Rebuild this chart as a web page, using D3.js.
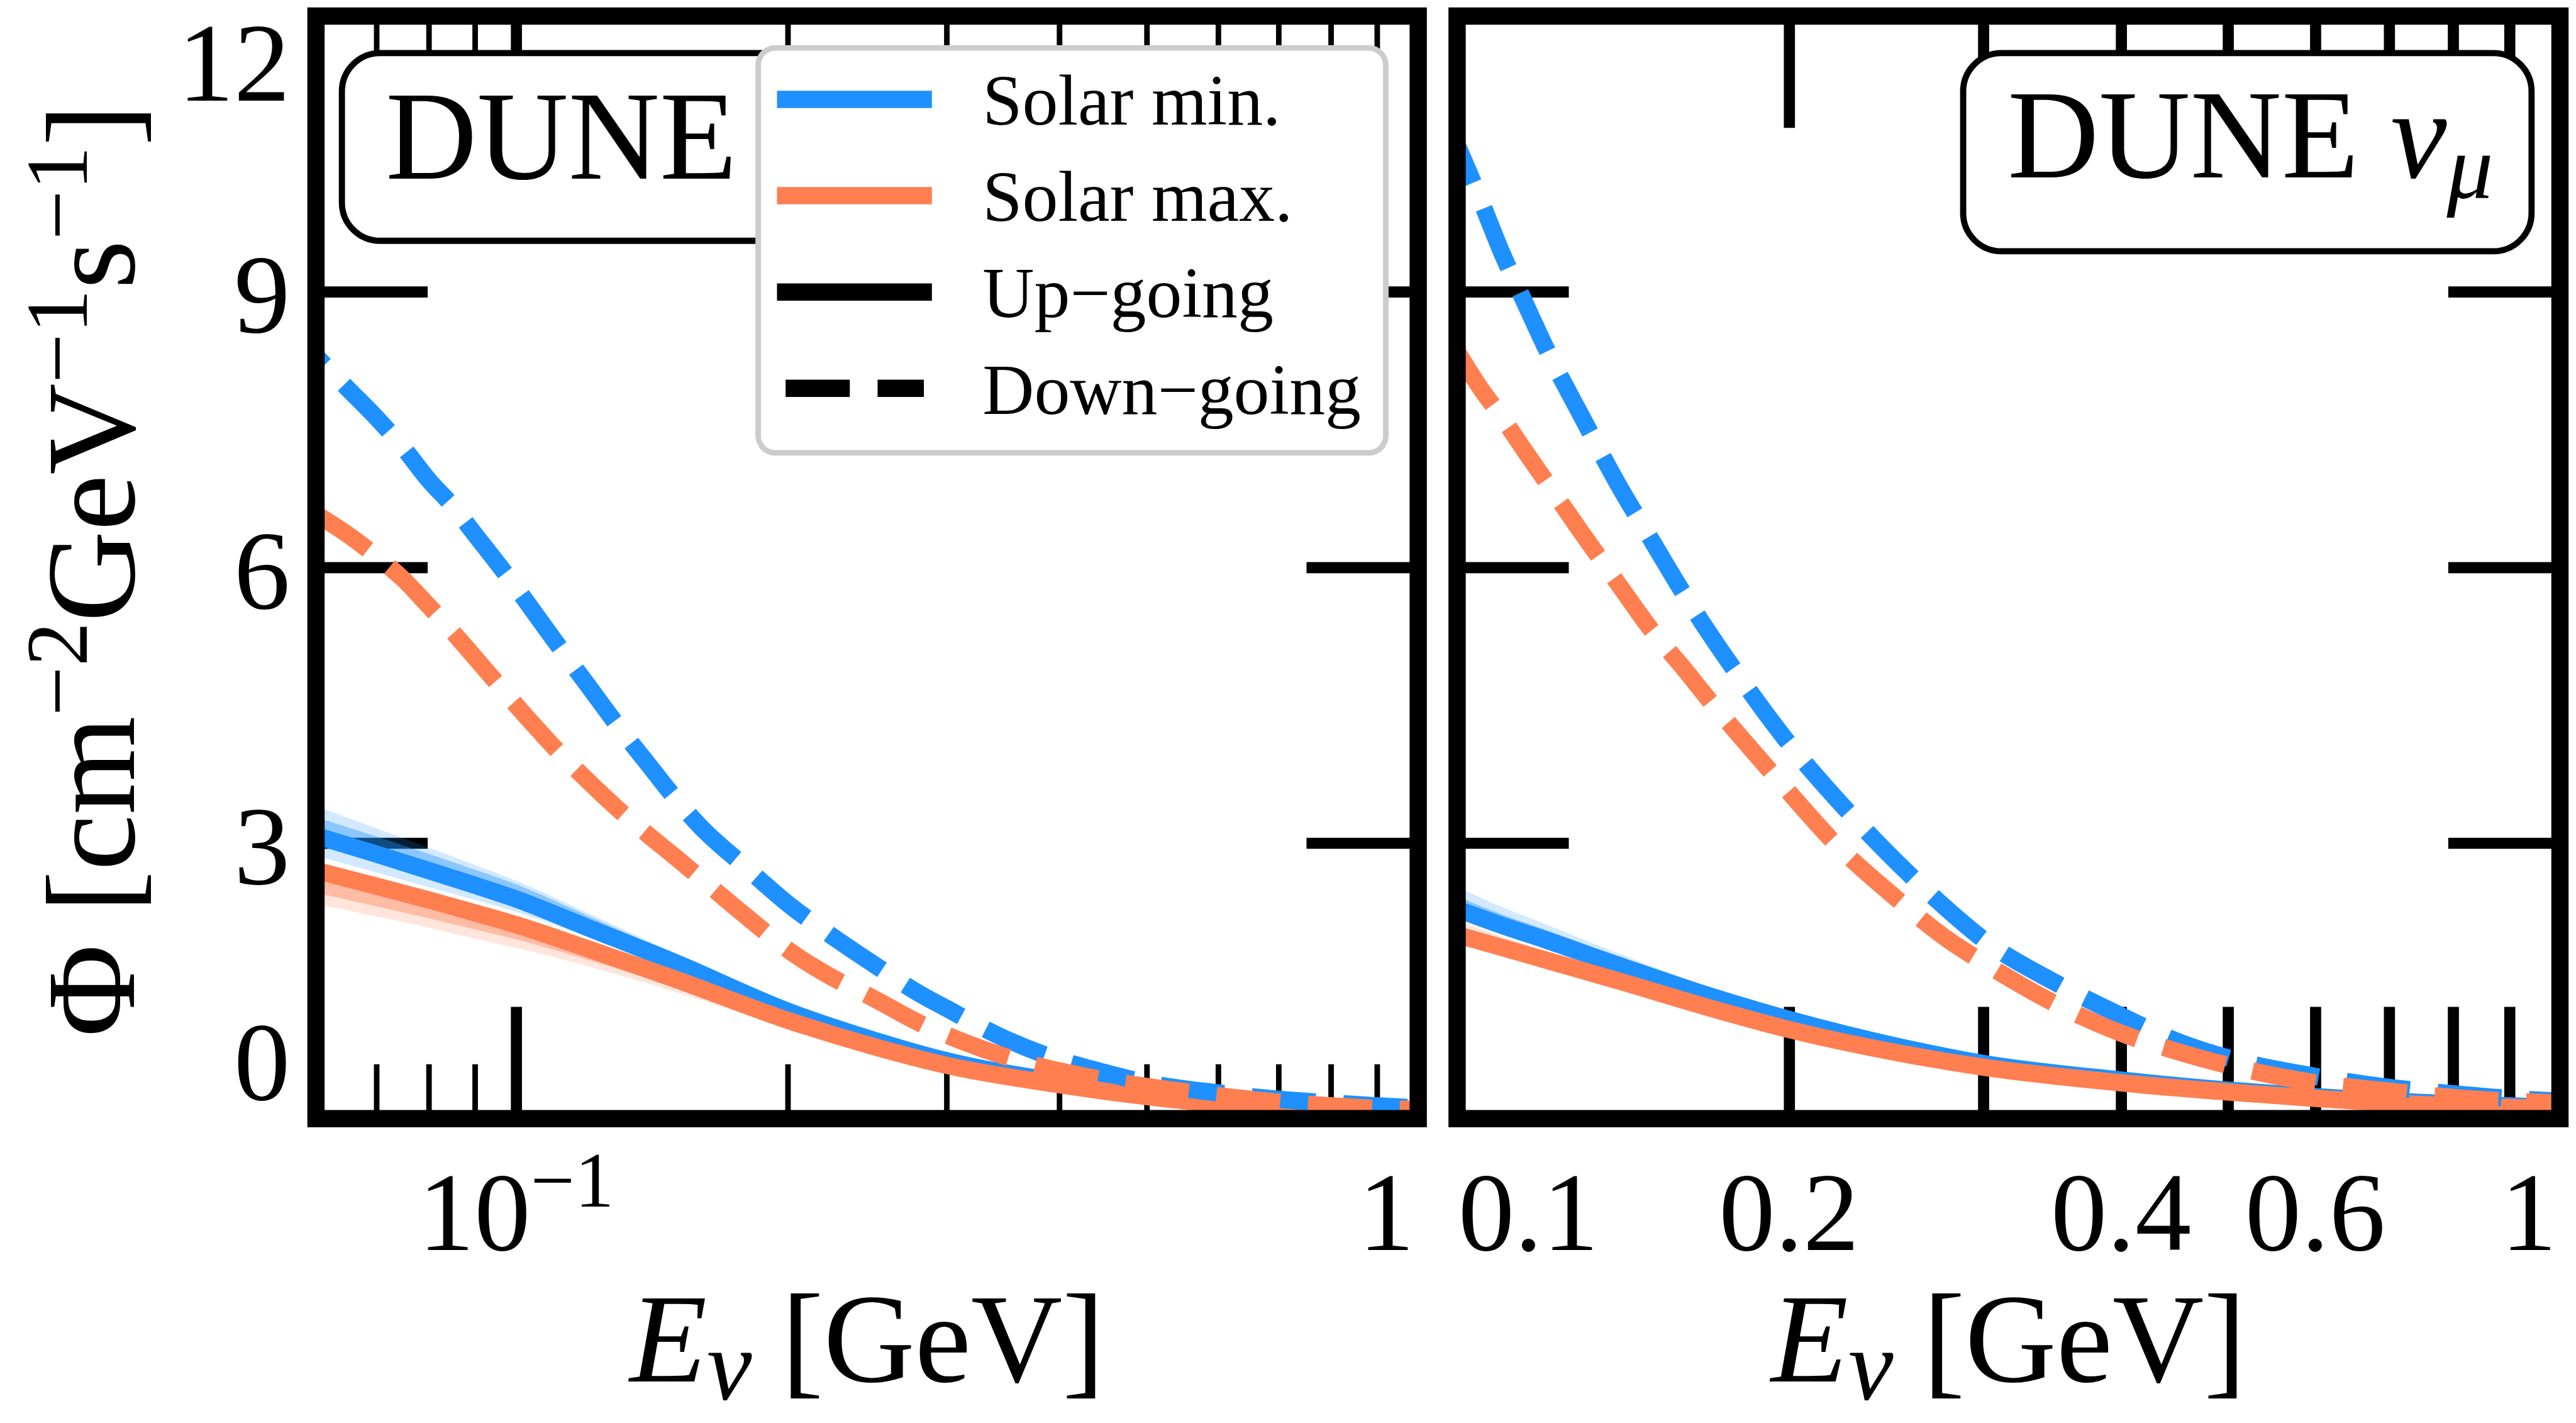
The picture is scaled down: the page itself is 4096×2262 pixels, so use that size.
<!DOCTYPE html>
<html lang="en">
<head>
  <meta charset="UTF-8" />
  <title>DUNE – flux at solar minimum and maximum</title>
  <script src="https://cdn.jsdelivr.net/npm/d3@7"></script>
  <style>
    html, body { margin: 0; padding: 0; background: #fff; overflow: hidden; }
    svg { display: block; }
    text { font-family: 'Liberation Serif', 'Times New Roman', serif; fill: #000; }
  </style>
</head>
<body>
  <svg id="chart" width="4096" height="2262" viewBox="0 0 4174 2305"></svg>
  <script>
    // ---------- values ----------
    // left panel, E from 0.06 to 1 GeV
    const leftSolidE   = [0.06, 0.07, 0.08, 0.09, 0.1, 0.12, 0.15, 0.2, 0.25, 0.3, 0.4, 0.5, 0.6, 0.8, 1.0];
    const leftUpMin    = [3.08, 2.88, 2.70, 2.54, 2.39, 2.08, 1.70, 1.17, 0.85, 0.63, 0.40, 0.26, 0.18, 0.11, 0.08];
    const leftUpMinHi  = [3.40, 3.16, 2.95, 2.76, 2.59, 2.24, 1.80, 1.22, 0.88, 0.65, 0.41, 0.27, 0.18, 0.11, 0.08];
    const leftUpMinHi2 = [3.28, 3.07, 2.88, 2.71, 2.55, 2.21, 1.78, 1.21, 0.87, 0.64, 0.41, 0.27, 0.18, 0.11, 0.08];
    const leftUpMinLo  = [2.86, 2.68, 2.52, 2.38, 2.25, 1.98, 1.63, 1.13, 0.83, 0.62, 0.39, 0.25, 0.18, 0.11, 0.08];
    const leftUpMax    = [2.70, 2.53, 2.38, 2.24, 2.11, 1.85, 1.52, 1.07, 0.78, 0.58, 0.37, 0.24, 0.16, 0.10, 0.07];
    const leftUpMaxHi  = [2.80, 2.62, 2.46, 2.31, 2.17, 1.90, 1.55, 1.09, 0.79, 0.59, 0.37, 0.24, 0.16, 0.10, 0.07];
    const leftUpMaxLo  = [2.34, 2.20, 2.08, 1.96, 1.86, 1.66, 1.38, 0.99, 0.73, 0.55, 0.35, 0.23, 0.16, 0.10, 0.07];
    const leftUpMaxLo2 = [2.46, 2.31, 2.18, 2.06, 1.95, 1.73, 1.43, 1.02, 0.75, 0.56, 0.36, 0.23, 0.16, 0.10, 0.07];

    const leftDownE    = [0.06, 0.065, 0.07, 0.075, 0.08, 0.085, 0.09, 0.1, 0.11, 0.12, 0.13, 0.14, 0.15, 0.16, 0.18,
                          0.2, 0.22, 0.25, 0.28, 0.3, 0.35, 0.4, 0.45, 0.5, 0.6, 0.7, 0.8, 0.9, 1.0];
    const leftDownMin  = [8.30, 7.95, 7.63, 7.30, 6.95, 6.67, 6.36, 5.78, 5.22, 4.72, 4.26, 3.86, 3.49, 3.18, 2.73,
                          2.34, 2.04, 1.67, 1.36, 1.20, 0.86, 0.64, 0.50, 0.39, 0.28, 0.21, 0.17, 0.14, 0.115];
    const leftDownMax  = [6.58, 6.36, 6.12, 5.87, 5.58, 5.30, 5.02, 4.50, 4.05, 3.68, 3.36, 3.09, 2.85, 2.62, 2.20,
                          1.84, 1.58, 1.30, 1.04, 0.91, 0.67, 0.52, 0.42, 0.35, 0.25, 0.18, 0.14, 0.11, 0.10];

    // right panel, E from 0.1 to 1 GeV
    const rightSolidE   = [0.1, 0.11, 0.12, 0.14, 0.17, 0.2, 0.25, 0.3, 0.4, 0.5, 0.6, 0.8, 1.0];
    const rightUpMin    = [2.28, 2.10, 1.95, 1.67, 1.33, 1.08, 0.79, 0.60, 0.42, 0.31, 0.24, 0.16, 0.12];
    const rightUpMinHi  = [2.52, 2.30, 2.12, 1.80, 1.42, 1.13, 0.81, 0.61, 0.42, 0.31, 0.24, 0.16, 0.12];
    const rightUpMinHi2 = [2.42, 2.22, 2.06, 1.76, 1.39, 1.12, 0.80, 0.61, 0.42, 0.31, 0.24, 0.16, 0.12];
    const rightUpMinLo  = [2.20, 2.03, 1.89, 1.62, 1.30, 1.06, 0.78, 0.59, 0.42, 0.31, 0.24, 0.16, 0.12];
    const rightUpMax    = [2.00, 1.86, 1.73, 1.50, 1.20, 0.97, 0.72, 0.56, 0.39, 0.29, 0.22, 0.14, 0.11];
    const rightUpMaxHi  = [2.16, 1.98, 1.82, 1.55, 1.22, 0.98, 0.72, 0.56, 0.39, 0.29, 0.22, 0.14, 0.11];
    const rightUpMaxLo  = [1.97, 1.84, 1.71, 1.49, 1.19, 0.96, 0.72, 0.56, 0.39, 0.29, 0.22, 0.14, 0.11];
    const rightUpMaxLo2 = [1.98, 1.85, 1.72, 1.50, 1.20, 0.97, 0.72, 0.56, 0.39, 0.29, 0.22, 0.14, 0.11];

    const rightDownE    = [0.1, 0.105, 0.11, 0.115, 0.12, 0.13, 0.14, 0.15, 0.16, 0.17, 0.18, 0.2, 0.22, 0.25,
                           0.28, 0.3, 0.35, 0.4, 0.45, 0.5, 0.6, 0.7, 0.8, 0.9, 1.0];
    const rightDownMin  = [10.60, 10.0, 9.40, 8.90, 8.42, 7.62, 6.90, 6.30, 5.74, 5.25, 4.82, 4.08, 3.50, 2.80,
                           2.25, 1.95, 1.47, 1.12, 0.84, 0.66, 0.46, 0.34, 0.27, 0.22, 0.19];
    const rightDownMax  = [8.35, 7.95, 7.62, 7.28, 6.96, 6.36, 5.82, 5.32, 4.92, 4.53, 4.18, 3.55, 3.00, 2.40,
                           1.93, 1.70, 1.24, 0.93, 0.73, 0.58, 0.39, 0.30, 0.23, 0.19, 0.17];

    // ticks and labels
    const yTicks         = [0, 3, 6, 9, 12];
    const yInnerTicks    = [3, 6, 9];
    const leftMajorX     = [0.1];
    const leftMinorX     = [0.07, 0.08, 0.09, 0.2, 0.3, 0.4, 0.5, 0.6, 0.7, 0.8, 0.9];
    const rightMajorX    = [0.2, 0.3, 0.4, 0.5, 0.6, 0.7, 0.8, 0.9];
    const rightXLabels   = [0.1, 0.2, 0.4, 0.6, 1];
    const legendLabels   = ["Solar min.", "Solar max.", "Up\u2212going", "Down\u2212going"];

    // ---------- layout (reference pixels, scaled by the viewBox) ----------
    const BLUE = "#1e90ff", ORANGE = "#ff7f50";
    const LW = 28, DASH = "104 45";
    const Y_TOP = 26, Y_BOT = 1812;
    const MAJOR = 181, MINOR = 88;
    const TICK_FS = 182, LABEL_FS = 205;

    const svg = d3.select("#chart");
    const defs = svg.append("defs");
    svg.append("rect").attr("width", 4174).attr("height", 2305).attr("fill", "#fff");

    const y = d3.scaleLinear().domain([0, 12]).range([Y_BOT, Y_TOP]);

    function tickAxis(g, axisFn, scale, values, size, width) {
      g.call(axisFn(scale).tickValues(values).tickSizeInner(-size).tickSizeOuter(0).tickFormat(() => ""));
      g.select(".domain").remove();
      g.selectAll(".tick text").remove();
      g.selectAll(".tick line").attr("stroke", "#000").attr("stroke-width", width);
    }

    function drawPanel(p) {
      const x = d3.scaleLog().domain(p.domain).range([p.x0, p.x1]);
      const g = svg.append("g");

      // ticks (drawn under the curves)
      const ticks = g.append("g");
      [[d3.axisBottom, Y_BOT], [d3.axisTop, Y_TOP]].forEach(([fn, pos]) => {
        if (p.minorX.length)
          tickAxis(ticks.append("g").attr("transform", `translate(0,${pos})`), fn, x, p.minorX, MINOR, 9);
        tickAxis(ticks.append("g").attr("transform", `translate(0,${pos})`), fn, x, p.majorX, MAJOR, 18);
      });
      tickAxis(ticks.append("g").attr("transform", `translate(${p.x0},0)`), d3.axisLeft, y, yInnerTicks, MAJOR, 18);
      tickAxis(ticks.append("g").attr("transform", `translate(${p.x1},0)`), d3.axisRight, y, yInnerTicks, MAJOR, 18);

      // curves
      const clipId = "clip" + p.name;
      defs.append("clipPath").attr("id", clipId).append("rect")
        .attr("x", p.x0).attr("y", Y_TOP).attr("width", p.x1 - p.x0).attr("height", Y_BOT - Y_TOP);
      const plot = g.append("g").attr("clip-path", `url(#${clipId})`);

      const area = (xs, lo, hi) => d3.area()
        .x((d, i) => x(xs[i])).y0((d, i) => y(lo[i])).y1((d, i) => y(hi[i]))
        .curve(d3.curveMonotoneX)(xs);
      const line = (xs, ys) => d3.line()
        .x((d, i) => x(xs[i])).y((d, i) => y(ys[i]))
        .curve(d3.curveMonotoneX)(xs);

      // up-going, solar min
      plot.append("path").attr("d", area(p.solidE, p.minLo, p.minHi)).attr("fill", BLUE).attr("fill-opacity", 0.2);
      plot.append("path").attr("d", area(p.solidE, p.min, p.minHi2)).attr("fill", BLUE).attr("fill-opacity", 0.4);
      plot.append("path").attr("d", line(p.solidE, p.min))
        .attr("fill", "none").attr("stroke", BLUE).attr("stroke-width", LW);
      // up-going, solar max
      plot.append("path").attr("d", area(p.solidE, p.maxLo, p.maxHi)).attr("fill", ORANGE).attr("fill-opacity", 0.2);
      plot.append("path").attr("d", area(p.solidE, p.maxLo2, p.max)).attr("fill", ORANGE).attr("fill-opacity", 0.4);
      plot.append("path").attr("d", line(p.solidE, p.max))
        .attr("fill", "none").attr("stroke", ORANGE).attr("stroke-width", LW);
      // down-going
      plot.append("path").attr("d", line(p.downE, p.downMin))
        .attr("fill", "none").attr("stroke", BLUE).attr("stroke-width", LW)
        .attr("stroke-dasharray", DASH).attr("stroke-dashoffset", p.offMin);
      plot.append("path").attr("d", line(p.downE, p.downMax))
        .attr("fill", "none").attr("stroke", ORANGE).attr("stroke-width", LW)
        .attr("stroke-dasharray", DASH).attr("stroke-dashoffset", p.offMax);

      // frame
      g.append("rect")
        .attr("x", p.x0).attr("y", Y_TOP).attr("width", p.x1 - p.x0).attr("height", Y_BOT - Y_TOP)
        .attr("fill", "none").attr("stroke", "#000").attr("stroke-width", LW);

      // x label
      const xl = g.append("text").attr("x", (p.x0 + p.x1) / 2).attr("y", 2238)
        .attr("text-anchor", "middle").attr("font-size", LABEL_FS);
      xl.append("tspan").attr("font-style", "italic").text("E");
      xl.append("tspan").attr("font-style", "italic").attr("font-size", 164).attr("dy", 28).text("\u03bd");
      xl.append("tspan").attr("dy", -28).attr("dx", 48).text("[GeV]");
      return x;
    }

    // ---------- left panel ----------
    const xL = drawPanel({
      name: "L", domain: [0.06, 1], x0: 512, x1: 2298,
      majorX: leftMajorX, minorX: leftMinorX,
      solidE: leftSolidE, min: leftUpMin, minHi: leftUpMinHi, minHi2: leftUpMinHi2, minLo: leftUpMinLo,
      max: leftUpMax, maxHi: leftUpMaxHi, maxLo: leftUpMaxLo, maxLo2: leftUpMaxLo2,
      downE: leftDownE, downMin: leftDownMin, downMax: leftDownMax, offMin: 84, offMax: 2
    });

    // ---------- right panel ----------
    const xR = drawPanel({
      name: "R", domain: [0.1, 1], x0: 2361, x1: 4148,
      majorX: rightMajorX, minorX: [],
      solidE: rightSolidE, min: rightUpMin, minHi: rightUpMinHi, minHi2: rightUpMinHi2, minLo: rightUpMinLo,
      max: rightUpMax, maxHi: rightUpMaxHi, maxLo: rightUpMaxLo, maxLo2: rightUpMaxLo2,
      downE: rightDownE, downMin: rightDownMin, downMax: rightDownMax, offMin: 37, offMax: 0
    });

    // ---------- tick labels ----------
    svg.append("g").selectAll("text").data(yTicks).join("text")
      .attr("x", 470).attr("text-anchor", "end").attr("font-size", TICK_FS)
      .attr("y", d => d === 12 ? y(d) + 137 : d === 0 ? y(d) - 31 : y(d) + 66)
      .text(d => d);

    const xLab = svg.append("g").attr("font-size", TICK_FS);
    const tenth = xLab.append("text").attr("x", xL(0.1)).attr("y", 2025).attr("text-anchor", "middle");
    tenth.append("tspan").text("10");
    tenth.append("tspan").attr("font-size", 127).attr("dy", -70).text("\u22121");
    xLab.append("text").attr("x", xL(1) - 6).attr("y", 2025).attr("text-anchor", "end").text("1");

    xLab.selectAll(".rl").data(rightXLabels).join("text").attr("class", "rl")
      .attr("x", (d, i) => i === 0 ? xR(d) + 2 : i === rightXLabels.length - 1 ? xR(d) - 5 : xR(d))
      .attr("y", 2025)
      .attr("text-anchor", (d, i) => i === 0 ? "start" : i === rightXLabels.length - 1 ? "end" : "middle")
      .text(d => d === 1 ? "1" : d3.format(".1f")(d));

    // ---------- y label ----------
    const yl = svg.append("text").attr("transform", "translate(217,924) rotate(-90)")
      .attr("text-anchor", "middle").attr("font-size", LABEL_FS);
    yl.append("tspan").text("\u03a6 [cm");
    yl.append("tspan").attr("font-size", 143).attr("dy", -76).text("\u22122");
    yl.append("tspan").attr("dy", 76).text("GeV");
    yl.append("tspan").attr("font-size", 143).attr("dy", -76).text("\u22121");
    yl.append("tspan").attr("dy", 76).text("s");
    yl.append("tspan").attr("font-size", 143).attr("dy", -76).text("\u22121");
    yl.append("tspan").attr("dy", 76).text("]");

    // ---------- detector boxes ----------
    svg.append("rect").attr("x", 554).attr("y", 86).attr("width", 921).attr("height", 304).attr("rx", 62)
      .attr("fill", "#fff").attr("stroke", "#000").attr("stroke-width", 10);
    svg.append("text").attr("x", 625).attr("y", 289).attr("font-size", LABEL_FS).text("DUNE");

    svg.append("rect").attr("x", 3181).attr("y", 86).attr("width", 921).attr("height", 321).attr("rx", 62)
      .attr("fill", "#fff").attr("stroke", "#000").attr("stroke-width", 10);
    const dn = svg.append("text").attr("x", 3253).attr("y", 287).attr("font-size", LABEL_FS);
    dn.append("tspan").text("DUNE ");
    dn.append("tspan").attr("font-style", "italic").text("\u03bd");
    dn.append("tspan").attr("font-style", "italic").attr("font-size", 150).attr("dy", 34).text("\u03bc");

    // ---------- legend ----------
    const lg = svg.append("g");
    lg.append("rect").attr("x", 1228.5).attr("y", 77.5).attr("width", 1017).attr("height", 656).attr("rx", 28)
      .attr("fill", "#fff").attr("stroke", "#cccccc").attr("stroke-width", 9);
    const legendStyle = [
      { color: BLUE, dash: null }, { color: ORANGE, dash: null },
      { color: "#000", dash: null }, { color: "#000", dash: DASH }
    ];
    const rowY = i => 161 + i * 156;
    lg.selectAll(".lh").data(legendLabels).join("line").attr("class", "lh")
      .attr("x1", (d, i) => legendStyle[i].dash ? 1273 : 1259)
      .attr("x2", (d, i) => legendStyle[i].dash ? 1497 : 1510)
      .attr("y1", (d, i) => rowY(i)).attr("y2", (d, i) => rowY(i))
      .attr("stroke", (d, i) => legendStyle[i].color).attr("stroke-width", LW)
      .attr("stroke-dasharray", (d, i) => legendStyle[i].dash);
    lg.selectAll(".lt").data(legendLabels).join("text").attr("class", "lt")
      .attr("x", 1592).attr("y", (d, i) => rowY(i) + 41).attr("font-size", 116)
      .text(d => d);
  </script>
</body>
</html>
